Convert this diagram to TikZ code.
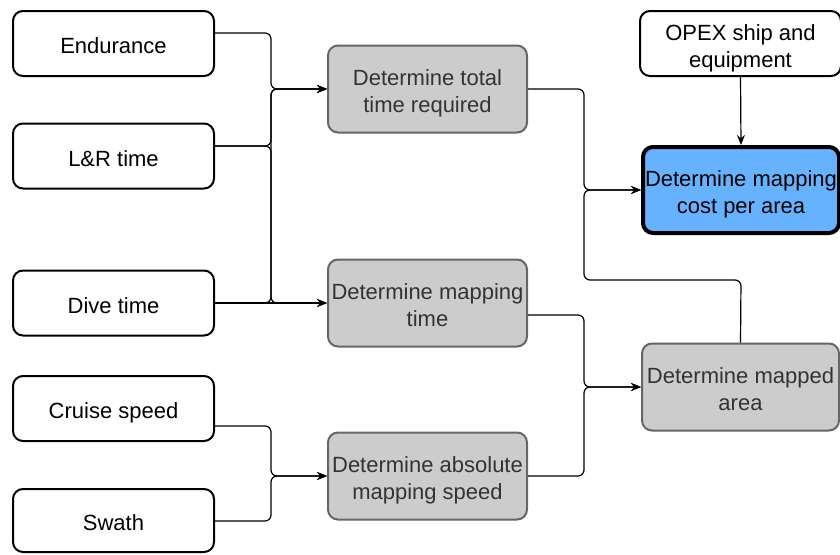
\documentclass[tikz,border=0pt]{standalone}
\usepackage{fontspec}
\setmainfont{Liberation Sans}
\usetikzlibrary{arrows.meta}
\definecolor{graybox}{HTML}{CCCCCC}
\definecolor{grayline}{HTML}{666666}
\definecolor{graytext}{HTML}{333333}
\definecolor{bluebox}{HTML}{66B2FF}
% centred lines of a box label, inked a little below the box centre
\newcommand{\boxtext}[1]{\raisebox{-5pt}[\height][\depth]{\begin{tabular}{@{}c@{}}#1\end{tabular}}}
\begin{document}
\begin{tikzpicture}[x=1pt,y=-1pt,
  base/.style={rectangle, rounded corners=10pt, inner sep=0pt,
    font=\fontsize{22}{27}\selectfont},
  inbox/.style={base, draw=black, fill=white, line width=2pt,
    minimum width=201pt, minimum height=65pt},
  procbox/.style={base, draw=grayline, fill=graybox, text=graytext, line width=2pt,
    minimum width=199pt, minimum height=87pt},
  goalbox/.style={base, draw=black, fill=bluebox, line width=4pt,
    minimum width=196pt, minimum height=86pt},
  link/.style={line width=1.2pt, rounded corners=6pt, -{Stealth[length=10pt,width=8pt]}}]
\useasboundingbox (0,0) rectangle (840,554);

% inputs
\node[inbox] (end)    at (113.5,43.5)  {\boxtext{Endurance}};
\node[inbox] (lr)     at (113.5,156)   {\boxtext{L\&R time}};
\node[inbox] (dive)   at (113.5,303)   {\boxtext{Dive time}};
\node[inbox] (cruise) at (113.5,408.5) {\boxtext{Cruise speed}};
\node[inbox, minimum height=63pt] (swath) at (113.5,520.5) {\boxtext{Swath}};
\node[inbox] (opex)   at (740.5,43.5)  {\boxtext{OPEX ship and\\equipment}};

% intermediate steps
\node[procbox] (total)   at (427.5,89)  {\boxtext{Determine total\\time required}};
\node[procbox] (maptime) at (427.5,303) {\boxtext{Determine mapping\\time}};
\node[procbox] (abs)     at (427.5,476) {\boxtext{Determine absolute\\mapping speed}};
\node[procbox, minimum width=197pt] (area) at (740.5,387) {\boxtext{Determine mapped\\area}};

% result
\node[goalbox] (cost) at (741,190) {\boxtext{Determine mapping\\cost per area}};

% connectors into the time steps
\draw[link] (end.east |- 0,33) -- (271,33) -- (271,89) -- (total.west);
\draw[link] (lr.east |- 0,146) -- (271,146) -- (271,89) -- (total.west);
\draw[link] (dive.east) -- (271,303) -- (271,89) -- (total.west);
\draw[link] (lr.east |- 0,146) -- (271,146) -- (271,303) -- (maptime.west);
\draw[link] (dive.east) -- (maptime.west);

% connectors into the speed step
\draw[link] (cruise.east |- 0,426) -- (271,426) -- (271,476) -- (abs.west);
\draw[link] (swath.east |- 0,521) -- (271,521) -- (271,476) -- (abs.west);

% connectors into the mapped area
\draw[link] (maptime.east |- 0,315) -- (584,315) -- (584,387) -- (area.west);
\draw[link] (abs.east) -- (584,476) -- (584,387) -- (area.west);

% connectors into the cost
\draw[link] (total.east) -- (584,89) -- (584,190) -- (cost.west);
\draw[link] (area.north) -- (741,280) -- (584,280) -- (584,190) -- (cost.west);
\draw[link] (opex.south) -- (cost.north);
\end{tikzpicture}
\end{document}
